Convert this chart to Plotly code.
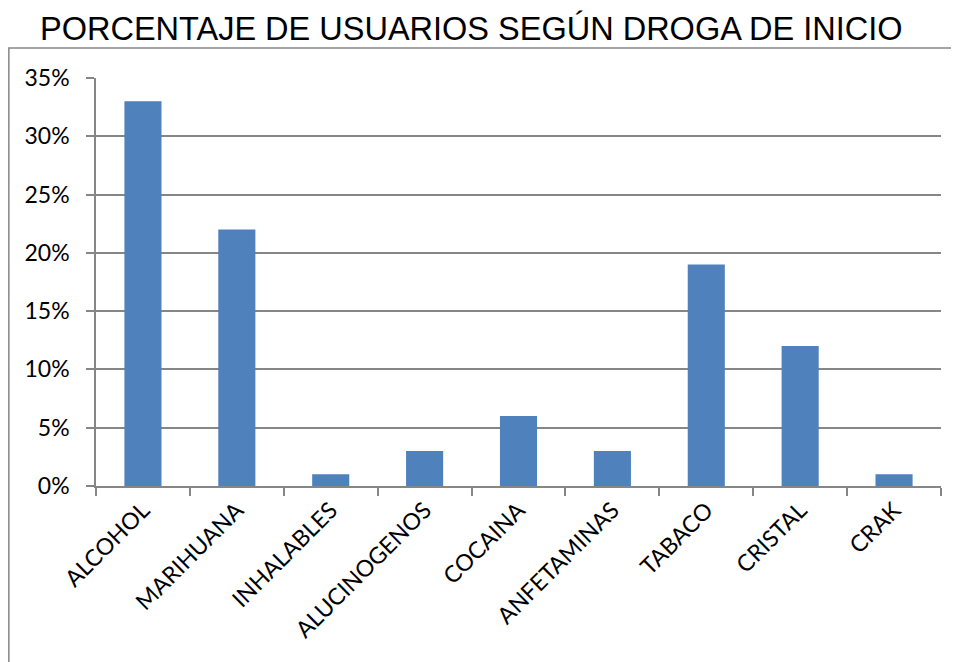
import plotly.graph_objects as go

categories = ["ALCOHOL", "MARIHUANA", "INHALABLES", "ALUCINOGENOS", "COCAINA",
              "ANFETAMINAS", "TABACO", "CRISTAL", "CRAK"]
values = [0.33, 0.22, 0.01, 0.03, 0.06, 0.03, 0.19, 0.12, 0.01]
title_text = "PORCENTAJE DE USUARIOS SEGÚN DROGA DE INICIO"

OFF = 8  # page body margin
W, H = 959 - OFF, 662 - OFF
L, R, T, B = 96 - OFF, 18, 78 - OFF, 176
pw, ph = W - L - R, H - T - B

fig = go.Figure(go.Bar(x=categories, y=values, marker=dict(color="#4F81BD", line=dict(width=0))))

grid = "#868686"
fig.update_layout(
    width=W, height=H,
    margin=dict(l=L, r=R, t=T, b=B),
    paper_bgcolor="white", plot_bgcolor="white",
    bargap=0.605,
    showlegend=False,
    font=dict(family="Lato, Open Sans, sans-serif", color="black", size=23),
    xaxis=dict(type="category", tickson="boundaries", ticks="outside", ticklen=8,
               tickcolor=grid, tickwidth=1.5, showgrid=False, showline=True,
               linecolor=grid, linewidth=1.5, tickangle=-45,
               tickfont=dict(size=23)),
    yaxis=dict(range=[0, 0.35], dtick=0.05, tickformat=".0%", ticks="outside",
               ticklen=8, tickcolor=grid, tickwidth=1.5, showgrid=True,
               gridcolor=grid, gridwidth=1.5, showline=True, linecolor=grid,
               linewidth=1.5, zeroline=False, ticklabelstandoff=12,
               tickfont=dict(size=23)),
)

# outer chart-area border
x0 = (8 - OFF - L) / pw
y1 = 1 + (78 - 48) / ph
fig.add_shape(type="rect", xref="paper", yref="paper", x0=x0 + 0.001, x1=1.2, y0=-1.0, y1=y1,
              line=dict(color=grid, width=1.5), layer="below")

fig.add_annotation(text=title_text, xref="paper", yref="paper",
                   x=(471 - 96) / pw, y=1 + (78 - 29) / ph, xanchor="center", yanchor="middle",
                   showarrow=False,
                   font=dict(family="Liberation Sans, Arial, sans-serif", size=32.5, color="black"))

fig.write_html("out.html")
